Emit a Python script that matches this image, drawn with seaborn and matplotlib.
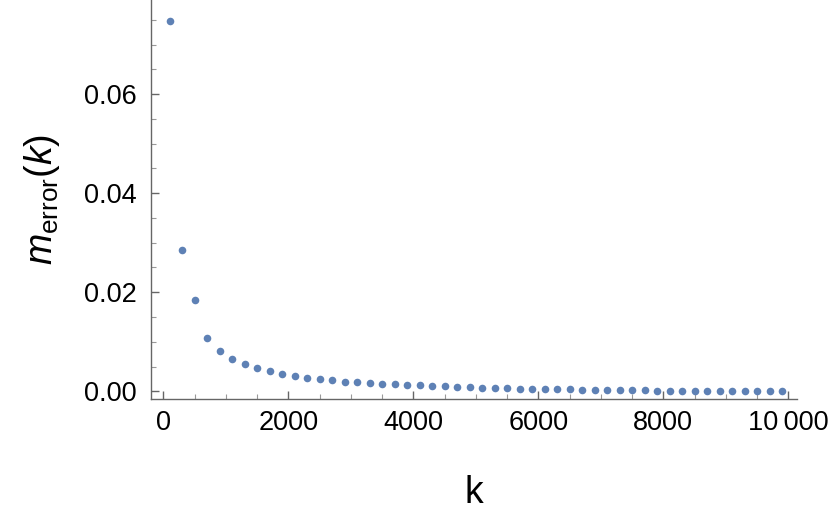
import matplotlib
matplotlib.use("Agg")
import matplotlib.pyplot as plt
import seaborn as sns
import pandas as pd
from matplotlib.ticker import FixedLocator, FixedFormatter, MultipleLocator

k_values = [100, 300, 500, 700, 900, 1100, 1300, 1500, 1700, 1900,
            2100, 2300, 2500, 2700, 2900, 3100, 3300, 3500, 3700, 3900,
            4100, 4300, 4500, 4700, 4900, 5100, 5300, 5500, 5700, 5900,
            6100, 6300, 6500, 6700, 6900, 7100, 7300, 7500, 7700, 7900,
            8100, 8300, 8500, 8700, 8900, 9100, 9300, 9500, 9700, 9900]
m_error = [0.0748, 0.0285, 0.0184, 0.0108, 0.0082, 0.0066, 0.0055, 0.0046, 0.0040, 0.0035,
           0.0030, 0.0027, 0.0024, 0.0022, 0.0019, 0.0018, 0.0016, 0.0015, 0.0014, 0.0012,
           0.0012, 0.0011, 0.0010, 0.0009, 0.0008, 0.00075, 0.0007, 0.00062, 0.00055, 0.0005,
           0.00047, 0.00042, 0.00037, 0.00034, 0.0003, 0.00026, 0.00023, 0.0002, 0.00017, 0.00015,
           0.00012, 0.0001, 0.00008, 0.00006, 0.00004, 0.00003, 0.00002, 0.00001, 0.0, 0.0]

x_ticks = [0, 2000, 4000, 6000, 8000, 10000]
x_tick_labels = ["0", "2000", "4000", "6000", "8000", "10\u2009000"]
y_ticks = [0.0, 0.02, 0.04, 0.06]
y_tick_labels = ["0.00", "0.02", "0.04", "0.06"]

sns.set_style("ticks")
plt.rcParams['font.family'] = ['Liberation Sans', 'DejaVu Sans']
plt.rcParams['mathtext.fontset'] = 'custom'
plt.rcParams['mathtext.rm'] = 'Liberation Sans'
plt.rcParams['mathtext.it'] = 'Liberation Sans:italic'

df = pd.DataFrame({"k": k_values, "m": m_error})

fig = plt.figure(figsize=(8.30, 5.28), dpi=100)
ax = fig.add_axes([151/830, 129/528, (797-151)/830, 399/528])
sns.scatterplot(data=df, x="k", y="m", ax=ax, color="#5E81B5", s=30,
                linewidth=0, legend=False)

ax.set_xlim(-197, 10140)
ax.set_ylim(-0.00156, 0.0790)

ax.xaxis.set_major_locator(FixedLocator(x_ticks))
ax.xaxis.set_major_formatter(FixedFormatter(x_tick_labels))
ax.xaxis.set_minor_locator(MultipleLocator(500))
ax.yaxis.set_major_locator(FixedLocator(y_ticks))
ax.yaxis.set_major_formatter(FixedFormatter(y_tick_labels))
ax.yaxis.set_minor_locator(MultipleLocator(0.005))

axis_col = "#666666"
for side in ["top", "right"]:
    ax.spines[side].set_visible(False)
for side in ["left", "bottom"]:
    ax.spines[side].set_color(axis_col)
    ax.spines[side].set_linewidth(1.0)

ax.tick_params(which="major", direction="in", length=6, width=1.0, color=axis_col,
               labelsize=19.5, labelcolor="black")
ax.tick_params(which="minor", direction="in", length=3.5, width=0.8, color="#999999")
ax.tick_params(axis="y", which="major", pad=10)
ax.tick_params(axis="x", which="major", pad=8)

ax.set_xlabel("k", fontsize=27, labelpad=28, color="black")
ax.set_ylabel(r"$m_{\mathrm{error}}(k)$", fontsize=27, labelpad=16, color="black")

fig.savefig("out.png", dpi=100)
